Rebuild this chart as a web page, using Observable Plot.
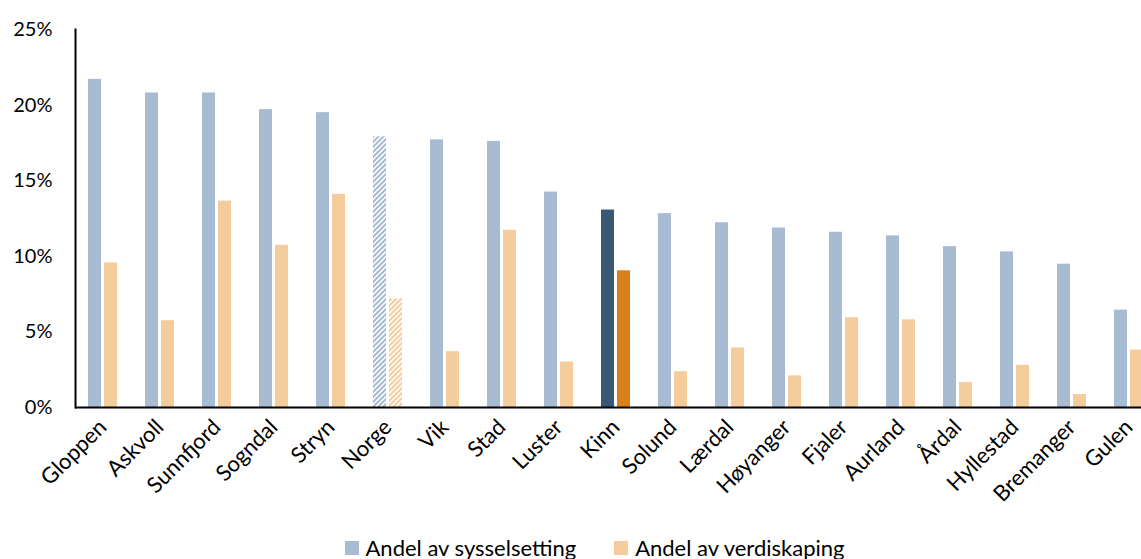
<!DOCTYPE html>
<html>
<head>
<meta charset="utf-8">
<script src="https://cdn.jsdelivr.net/npm/d3@7"></script>
<script src="https://cdn.jsdelivr.net/npm/@observablehq/plot@0.6"></script>
<style>
  html, body { margin: 0; padding: 0; background: #fff; }
  body { width: 1141px; height: 559px; overflow: hidden; position: relative; font-family: Lato, sans-serif; }
  #legend { position: absolute; top: 536px; left: 0; width: 1141px; display: flex; justify-content: center; padding-left: 48px; box-sizing: border-box; font-size: 22px; color: #000; }
  .item { display: flex; align-items: center; line-height: 24px; margin: 0 19px; }
  .sw { width: 14px; height: 14px; margin-right: 7px; }
</style>
</head>
<body>
<div id="chart"></div>
<div id="legend"></div>
<script>
const categories = ["Gloppen","Askvoll","Sunnfjord","Sogndal","Stryn","Norge","Vik","Stad","Luster","Kinn","Solund","Lærdal","Høyanger","Fjaler","Aurland","Årdal","Hyllestad","Bremanger","Gulen"];
const sysselsetting = [21.7, 20.8, 20.8, 19.7, 19.5, 17.9, 17.7, 17.6, 14.25, 13.06, 12.82, 12.22, 11.87, 11.59, 11.35, 10.64, 10.29, 9.48, 6.44];
const verdiskaping = [9.56, 5.74, 13.65, 10.73, 14.1, 7.19, 3.69, 11.72, 3.01, 9.04, 2.37, 3.94, 2.09, 5.94, 5.8, 1.65, 2.79, 0.86, 3.8];
const seriesNames = ["Andel av sysselsetting", "Andel av verdiskaping"];
const yTicks = [0, 5, 10, 15, 20, 25];
const highlightKommune = "Kinn";
const referanse = "Norge";

const colors = {
  blue: "#A7BBD3", orange: "#F5CD9C",
  darkBlue: "#3A5775", darkOrange: "#D98019"
};

const data = categories.map((k, i) => ({kommune: k, syss: sysselsetting[i], verdi: verdiskaping[i]}));
const normal = data.filter(d => d.kommune !== highlightKommune && d.kommune !== referanse);
const hl = data.filter(d => d.kommune === highlightKommune);
const ref = data.filter(d => d.kommune === referanse);

const step = 57;
const x0 = 74;
const blueInset = {insetLeft: 14, insetRight: 30};
const orangeInset = {insetLeft: 30, insetRight: 14};

const plot = Plot.plot({
  width: 1141,
  height: 525,
  marginLeft: 75,
  marginRight: 0,
  marginTop: 29,
  marginBottom: 118,
  style: {fontFamily: "Lato, sans-serif", fontSize: "20px", color: "#000", background: "#fff", overflow: "hidden"},
  x: {type: "band", domain: categories, range: [x0, x0 + step * categories.length], padding: 0, label: null},
  y: {domain: [0, 25], label: null},
  marks: [
    Plot.barY(normal, {x: "kommune", y: "syss", fill: colors.blue, ...blueInset}),
    Plot.barY(normal, {x: "kommune", y: "verdi", fill: colors.orange, ...orangeInset}),
    Plot.barY(hl, {x: "kommune", y: "syss", fill: colors.darkBlue, ...blueInset}),
    Plot.barY(hl, {x: "kommune", y: "verdi", fill: colors.darkOrange, ...orangeInset}),
    Plot.barY(ref, {x: "kommune", y: "syss", fill: "url(#hatchBlue)", ...blueInset}),
    Plot.barY(ref, {x: "kommune", y: "verdi", fill: "url(#hatchOrange)", ...orangeInset}),
    Plot.axisY({ticks: yTicks, tickFormat: d => d + "%", tickSize: 0, tickPadding: 23, fontSize: 20, label: null}),
    Plot.tickY(yTicks, {y: d => d, x: categories[0], stroke: "#000", strokeWidth: 2, insetLeft: 0, insetRight: step - 8}),
    Plot.axisX({tickSize: 0, tickRotate: -45, tickPadding: 16, fontSize: 22, label: null}),
    Plot.ruleY([0], {stroke: "#000", strokeWidth: 2}),
    Plot.frame({anchor: "left", stroke: "#000", strokeWidth: 2})
  ]
});

// hatch patterns for the reference (Norge) bars
const ns = "http://www.w3.org/2000/svg";
const defs = document.createElementNS(ns, "defs");
[["hatchBlue", colors.blue], ["hatchOrange", colors.orange]].forEach(([id, c]) => {
  const p = document.createElementNS(ns, "pattern");
  p.setAttribute("id", id);
  p.setAttribute("patternUnits", "userSpaceOnUse");
  p.setAttribute("width", "5");
  p.setAttribute("height", "5");
  const bg = document.createElementNS(ns, "rect");
  bg.setAttribute("width", "5"); bg.setAttribute("height", "5"); bg.setAttribute("fill", "#fff");
  p.appendChild(bg);
  const path = document.createElementNS(ns, "path");
  path.setAttribute("d", "M-1,1 l2,-2 M0,5 l5,-5 M4,6 l2,-2");
  path.setAttribute("stroke", c);
  path.setAttribute("stroke-width", "2");
  p.appendChild(path);
  defs.appendChild(p);
});
plot.insertBefore(defs, plot.firstChild);
document.getElementById("chart").appendChild(plot);

// legend
const legend = document.getElementById("legend");
[[seriesNames[0], colors.blue], [seriesNames[1], colors.orange]].forEach(([name, c]) => {
  const it = document.createElement("div");
  it.className = "item";
  const sw = document.createElement("div");
  sw.className = "sw";
  sw.style.background = c;
  const t = document.createElement("span");
  t.textContent = name;
  it.appendChild(sw); it.appendChild(t);
  legend.appendChild(it);
});
</script>
</body>
</html>
